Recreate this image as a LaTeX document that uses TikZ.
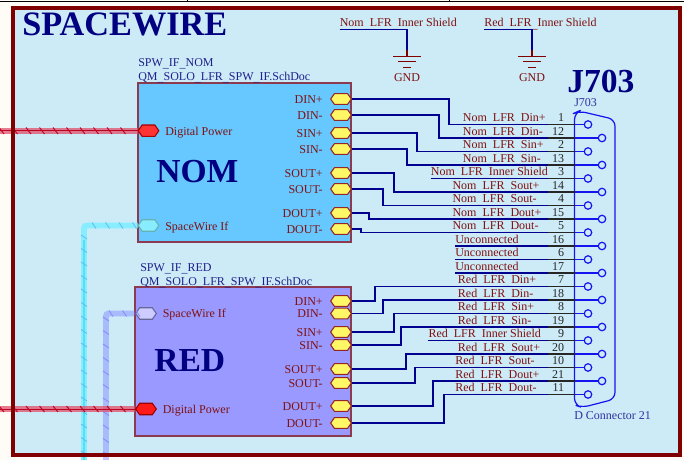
\documentclass[tikz,border=0pt]{standalone}
\usepackage{fontspec}
\setmainfont{Liberation Serif}
\usetikzlibrary{shapes.symbols,calc}
\definecolor{bgblue}{HTML}{CCEBF7}
\definecolor{cream}{HTML}{FFFCF8}
\definecolor{framered}{HTML}{800000}
\definecolor{nomfill}{HTML}{66C8FF}
\definecolor{redfill}{HTML}{9999FF}
\definecolor{boxline}{HTML}{8B3A50}
\definecolor{navywire}{HTML}{000090}
\definecolor{titlenavy}{HTML}{000080}
\definecolor{sheettext}{HTML}{20208C}
\definecolor{labelred}{HTML}{801010}
\definecolor{pinblue}{HTML}{1414F0}
\definecolor{compblue}{HTML}{3030A0}
\definecolor{hband}{HTML}{E0506C}
\definecolor{hcore}{HTML}{C00020}
\definecolor{cband}{HTML}{88EEFF}
\definecolor{ccore}{HTML}{55E0F8}
\definecolor{ctick}{HTML}{60C0F0}
\newcommand\us{\raisebox{-1pt}{\char"5F}}
\tikzset{
  x=0.75pt,y=-0.75pt,
  sheetbox/.style={draw=boxline,line width=0.8pt,inner sep=0pt},
  bigtitle/.style={font=\fontsize{25.2pt}{26pt}\selectfont\bfseries,text=titlenavy,inner sep=0pt},
  sheetlabel/.style={font=\fontsize{9pt}{10pt}\selectfont,text=sheettext,anchor=base west,inner sep=0pt},
  netlabel/.style={font=\fontsize{9pt}{10pt}\selectfont,text=labelred,anchor=base west,inner sep=0pt},
  portlabel/.style={font=\fontsize{9pt}{10pt}\selectfont,text=labelred,anchor=base east,inner sep=0pt},
  pinnum/.style={font=\fontsize{9pt}{10pt}\selectfont,text=black!85,anchor=base east,inner sep=0pt},
  complabel/.style={font=\fontsize{9pt}{10pt}\selectfont,text=compblue,anchor=base west,inner sep=0pt},
  hexport/.style={signal,signal to=east and west,signal pointer angle=110,inner sep=0pt,
     minimum width=15.5pt,minimum height=8.6pt,line width=0.8pt},
  yport/.style={hexport,draw=framered!85,fill=yellow!60!white,minimum height=8pt},
  wire/.style={draw=navywire,line width=.9pt},
  pinstub/.style={draw=black!85,line width=.9pt},
  pinblue line/.style={draw=pinblue,line width=0.9pt},
  pincircle/.style={circle,draw=pinblue,fill=bgblue,line width=0.9pt,minimum size=5.6pt,inner sep=0pt},
  gndline/.style={draw=framered,line width=0.9pt},
  bandred/.style={draw=hband,line width=4.4pt,opacity=.75},
  bandcyan/.style={draw=cband,line width=4.4pt},
  bandblue/.style={draw=blue!55!white,line width=4.4pt,opacity=.4},
  corered/.style={draw=hcore,line width=.5pt},
  corecyan/.style={draw=ccore,line width=1.4pt},
  tickred/.style={draw=hcore,line width=.7pt},
  tickcyan/.style={draw=ctick,line width=.7pt},
  tickblue/.style={draw=blue!45!white,line width=.7pt},
}
\begin{document}
\begin{tikzpicture}
\useasboundingbox (0,0) rectangle (684,460);
\fill[cream] (0,0) rectangle (684,460);
\fill[bgblue] (13,8.5) rectangle (680,454.5);
\draw[black,line width=.8pt] (0,1.3) -- (684,1.3);
\draw[black,line width=.6pt] (187,0) -- (187,1.3) (449,0) -- (449,1.3);

% sheet symbols
\node[sheetbox,fill=nomfill,minimum width=159.75pt,minimum height=119.25pt] (nombox) at (244.5,162.5) {};
\node[sheetbox,fill=redfill,minimum width=162pt,minimum height=111.75pt] (redbox) at (243,361.5) {};

% left ports
\node[hexport,draw=framered!70!red,fill=red!80!white] (nomdp) at (148.5,130.7) {};
\node[hexport,draw=teal!60!white,fill=cband] (nomsw) at (148.5,225.5) {};
\node[hexport,draw=gray!80!blue,fill=blue!20!white] (redsw) at (146,313.5) {};
\node[hexport,draw=framered!80!red,fill=red!90!white] (reddp) at (146,409) {};

% harness free ends
\coordinate (nomdpend) at (0,130.7);
\coordinate (reddpend) at (0,409);
\coordinate (nomswend) at (84,460);
\coordinate (redswend) at (106,460);

\draw[bandred] (nomdp.west) -- (nomdpend);
\draw[corered] (nomdp.west) -- (nomdpend);
\foreach \k in {0,...,9} \draw[tickred] ({-1+13.5*\k},127.5) -- ({4+13.5*\k},134);
\draw[bandcyan,rounded corners=2pt] (nomsw.west) -| (nomswend);
\draw[corecyan] (84,240) -- (nomswend);
\foreach \k in {0,...,3} \draw[tickcyan] ({92+13.5*\k},222.5) -- ({96+13.5*\k},228.5);
\foreach \k in {0,...,16} \draw[tickcyan] (81,{235+13.5*\k}) -- (87,{239+13.5*\k});
\draw[bandblue,rounded corners=2pt] (redsw.west) -| (redswend);
\foreach \k in {0,...,2} \draw[tickblue] ({109+13.5*\k},310.5) -- ({113+13.5*\k},316.5);
\foreach \k in {0,...,10} \draw[tickblue] (103,{317+13.5*\k}) -- (109,{321+13.5*\k});
\draw[bandred] (reddp.west) -- (reddpend);
\draw[corered] (reddp.west) -- (reddpend);
\foreach \k in {0,...,9} \draw[tickred] ({-1+13.5*\k},406) -- ({4+13.5*\k},412);

% frame on top
\draw[framered,line width=3pt] (13,8.5) rectangle (680,454.5);

% titles
\node[bigtitle,anchor=base west,font=\fontsize{25.7pt}{26pt}\selectfont\bfseries] (title) at (22,36) {SPACEWIRE};
\node[bigtitle,anchor=base west] (nomtitle) at (156,182) {NOM};
\node[bigtitle,anchor=base west] (redtitle) at (154,371) {RED};
\node[bigtitle,anchor=base west] (jtitle) at (567,92) {J703};
\node[sheetlabel] (nomname) at (138,66) {SPW\us IF\us NOM};
\node[sheetlabel] (nomfile) at (138,80) {QM\us SOLO\us LFR\us SPW\us IF.SchDoc};
\node[sheetlabel] (redname) at (140,271.5) {SPW\us IF\us RED};
\node[sheetlabel] (redfile) at (140,285) {QM\us SOLO\us LFR\us SPW\us IF.SchDoc};
\node[netlabel] (nomdpt) at (165,135) {Digital Power};
\node[netlabel] (nomswt) at (165,230) {SpaceWire If};
\node[netlabel] (redswt) at (162.5,317.5) {SpaceWire If};
\node[netlabel] (reddpt) at (162.5,413) {Digital Power};
\node[complabel] (jref) at (574,106) {J703};
\node[complabel] (jtype) at (574,419) {D Connector 21};

% right ports with labels
\foreach \nm/\txt/\yy in {
  na/DIN+/99,nb/DIN-/115,nc/SIN+/133,nd/SIN-/149,ne/SOUT+/173,nf/SOUT-/189,ng/DOUT+/213,nh/DOUT-/229,
  ra/DIN+/301,rb/DIN-/313.5,rc/SIN+/332,rd/SIN-/345,re/SOUT+/369,rf/SOUT-/383,rg/DOUT+/406,rh/DOUT-/423}{
  \node[yport] (\nm) at (341,\yy) {};
  \node[portlabel] (\nm t) at (323,\yy+4) {\txt};
}

% connector body
\draw[pinblue line,rounded corners=5pt] (574.5,200) -- (574.5,113) -- (579,111) -- (615,119.5) -- (615,399) -- (582,407.5) -- (574.5,405) -- cycle;

% connector rows
\foreach \pn/\lx/\txt [count=\k from 0] in {
  1/462.7/Nom\us LFR\us Din+,12/462.7/Nom\us LFR\us Din-,2/462.7/Nom\us LFR\us Sin+,13/462.7/Nom\us LFR\us Sin-,
  3/430.7/Nom\us LFR\us Inner Shield,14/452.3/Nom\us LFR\us Sout+,4/452.3/Nom\us LFR\us Sout-,15/452.3/Nom\us LFR\us Dout+,
  5/452.3/Nom\us LFR\us Dout-,16/455/Unconnected,6/455/Unconnected,17/455/Unconnected,
  7/457.7/Red\us LFR\us Din+,18/457.7/Red\us LFR\us Din-,8/457.7/Red\us LFR\us Sin+,19/457.7/Red\us LFR\us Sin-,
  9/428.3/Red\us LFR\us Inner Shield,20/457.7/Red\us LFR\us Sout+,10/455/Red\us LFR\us Sout-,21/455/Red\us LFR\us Dout+,
  11/455/Red\us LFR\us Dout-}{
  \pgfmathsetmacro\yy{124.5+13.5*\k}
  \pgfmathsetmacro\xx{mod(\k,2)==0 ? 588 : 602}
  \pgfmathsetmacro\ty{\yy-2.8}
  \node[netlabel] (lab\pn) at (\lx,\ty) {\txt};
  \node[pinnum] (num\pn) at (564.5,\ty) {\pn};
  \coordinate (stubA\pn) at (548,\yy);
  \coordinate (stubB\pn) at (574.5,\yy);
  \node[pincircle] (pin\pn) at (\xx,\yy) {};
}

% sheet port to connector wires
\foreach \nm/\vx/\pn in {
  na/449/1,nb/439/12,nc/417/2,nd/407/13,ne/394/14,nf/383/4,ng/369/15,nh/361/5,
  ra/375/7,rb/383/18,rc/394/8,rd/401/19,re/406/20,rf/415/10,rg/433/21,rh/444/11}{
  \coordinate (vv) at (\vx,0);
  \draw[wire] (\nm.east) -- (\nm.east -| vv) |- (stubA\pn);
}
% wires that begin at their label
\foreach \pn in {3,16,6,17,9}{
  \draw[wire] (lab\pn.west |- stubA\pn) -- (stubA\pn);
}
% pin stubs
\foreach \pn in {1,12,2,13,3,14,4,15,5,16,6,17,7,18,8,19,9,20,10,21,11}{
  \draw[pinstub] (stubA\pn) -- (stubB\pn);
  \draw[pinblue line] (stubB\pn) -- (pin\pn);
}

% ground
\node[netlabel] (nshield) at (339.5,26.7) {Nom\us LFR\us Inner Shield};
\node[netlabel] (rshield) at (484,26.7) {Red\us LFR\us Inner Shield};
\node[netlabel,anchor=base] (gndn) at (407,81) {GND};
\node[netlabel,anchor=base] (gndr) at (532,81) {GND};
\foreach \gx/\lab in {407/nshield,532/rshield}{
  \coordinate (gtop) at (\gx,50);
  \coordinate (gbar) at (\gx,56.5);
  \coordinate (gleft) at (0,29.7);
  \draw[wire] (\lab.west |- gleft) -| (gtop);
  \draw[gndline] (gtop) -- (gbar);
  \draw[gndline] ([xshift=-10.5pt]gbar) -- ([xshift=10.5pt]gbar);
  \draw[gndline] ([xshift=-6.5pt,yshift=-4pt]gbar) -- ([xshift=6.5pt,yshift=-4pt]gbar);
  \draw[gndline] ([xshift=-3pt,yshift=-8.5pt]gbar) -- ([xshift=3pt,yshift=-8.5pt]gbar);
}
\end{tikzpicture}
\end{document}
